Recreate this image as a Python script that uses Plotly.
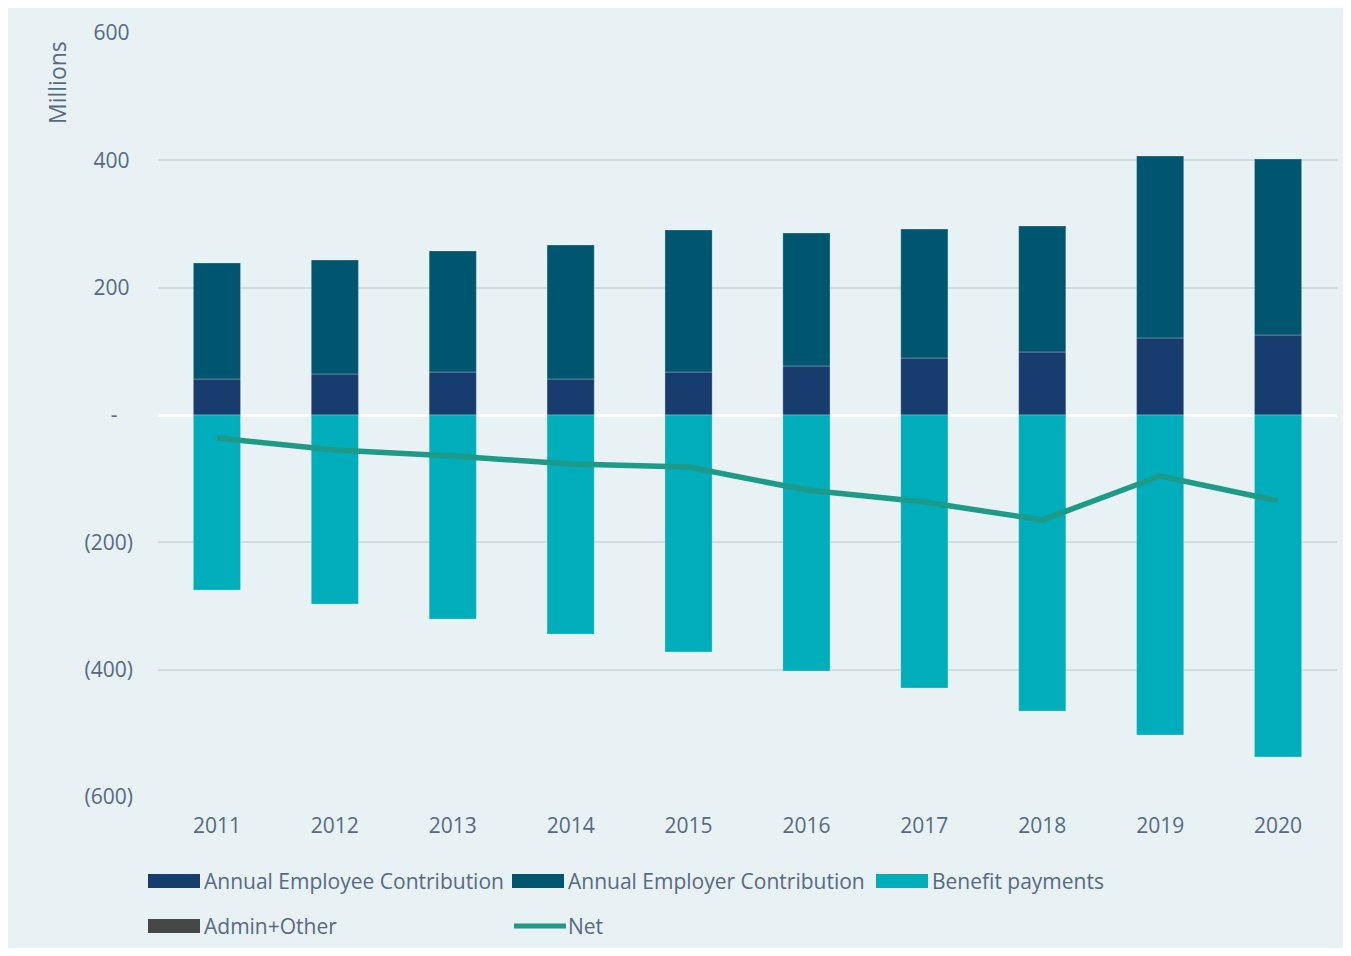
import plotly.graph_objects as go

years = ["2011", "2012", "2013", "2014", "2015", "2016", "2017", "2018", "2019", "2020"]
employee = [56.5, 64.4, 67.5, 56.5, 67.5, 77.0, 89.5, 99.0, 121.0, 125.6]
employer = [182.2, 179.0, 190.1, 210.5, 223.1, 208.8, 202.5, 197.8, 285.8, 276.4]
benefit = [-275.0, -296.9, -320.4, -344.0, -372.2, -402.0, -428.8, -465.0, -502.6, -537.0]
admin = [0, 0, 0, 0, 0, 0, 0, 0, 0, 0]
net = [-36.0, -55.0, -64.4, -77.0, -81.7, -117.8, -136.6, -165.0, -95.8, -135.0]

y_tickvals = [600, 400, 200, 0, -200, -400, -600]
y_ticktext = ["600\u2009", "400\u2009", "200\u2009", "-\u2007\u2009", "(200)", "(400)", "(600)"]

C_EMP = "#173C6E"
C_ER = "#00566E"
C_BEN = "#00ADBB"
C_ADM = "#474747"
C_NET = "#1E9A88"
TXT = "#566A83"
BG = "#E8F1F4"
FONT = "Open Sans"

OFF = 8  # page body margin
W, H = 1335, 940
L, T = 158 - OFF, 33 - OFF
R = W - (1337 - OFF)
B = H - (797 - OFF)
PW, PH = W - L - R, H - T - B


def px(xp):
    return (xp - OFF - L) / PW


def py(yp):
    return (H - B - (yp - OFF)) / PH


edge = dict(color="rgba(255,255,255,0.25)", width=1)
fig = go.Figure()
fig.add_trace(go.Bar(x=years, y=employee, name="Annual Employee Contribution",
                     marker=dict(color=C_EMP, line=edge)))
fig.add_trace(go.Bar(x=years, y=employer, name="Annual Employer Contribution",
                     marker=dict(color=C_ER, line=edge)))
fig.add_trace(go.Bar(x=years, y=benefit, name="Benefit payments",
                     marker=dict(color=C_BEN, line=edge)))
fig.add_trace(go.Bar(x=years, y=admin, name="Admin+Other",
                     marker=dict(color=C_ADM, line=dict(width=0))))
fig.add_trace(go.Scatter(x=years, y=net, name="Net", mode="lines",
                         line=dict(color=C_NET, width=5.5)))

shapes = [
    dict(type="rect", xref="paper", yref="paper", x0=px(6), x1=px(1350), y0=py(955), y1=py(4),
         fillcolor=BG, line=dict(width=0), layer="below"),
]
annotations = [
    dict(text="Millions", xref="paper", yref="paper", x=px(57), y=py(83), textangle=-90,
         showarrow=False, font=dict(family=FONT, size=23, color=TXT), xanchor="center", yanchor="middle"),
]

legend_items = [
    ("Annual Employee Contribution", C_EMP, "bar", 148, 881),
    ("Annual Employer Contribution", C_ER, "bar", 512, 881),
    ("Benefit payments", C_BEN, "bar", 876, 881),
    ("Admin+Other", C_ADM, "bar", 148, 926),
    ("Net", C_NET, "line", 512, 926),
]
for name, col, kind, x0, yc in legend_items:
    if kind == "bar":
        shapes.append(dict(type="rect", xref="paper", yref="paper", x0=px(x0), x1=px(x0 + 52),
                           y0=py(yc + 7), y1=py(yc - 7), fillcolor=col, line=dict(width=0)))
    else:
        shapes.append(dict(type="line", xref="paper", yref="paper", x0=px(x0 + 2), x1=px(x0 + 54),
                           y0=py(yc), y1=py(yc), line=dict(color=col, width=5)))
    annotations.append(dict(text=name, xref="paper", yref="paper", x=px(x0 + 54), y=py(yc),
                            xanchor="left", yanchor="middle", showarrow=False,
                            font=dict(family=FONT, size=21, color=TXT)))

fig.update_layout(
    width=W, height=H,
    margin=dict(l=L, r=R, t=T, b=B),
    paper_bgcolor="white", plot_bgcolor=BG,
    barmode="relative", bargap=0.6,
    showlegend=False,
    font=dict(family=FONT, size=21, color=TXT),
    shapes=shapes, annotations=annotations,
)
fig.update_xaxes(type="category", showgrid=False, showline=False, ticks="",
                 ticklabelstandoff=14, tickfont=dict(family=FONT, size=21, color=TXT))
fig.update_yaxes(range=[-600, 600], tickvals=y_tickvals, ticktext=y_ticktext,
                 showgrid=True, gridcolor="#D3DCE1", gridwidth=1.5,
                 zeroline=True, zerolinecolor="white", zerolinewidth=3,
                 ticks="", ticklabelstandoff=24, showline=False,
                 tickfont=dict(family=FONT, size=21, color=TXT))

fig.write_html("out.html")
